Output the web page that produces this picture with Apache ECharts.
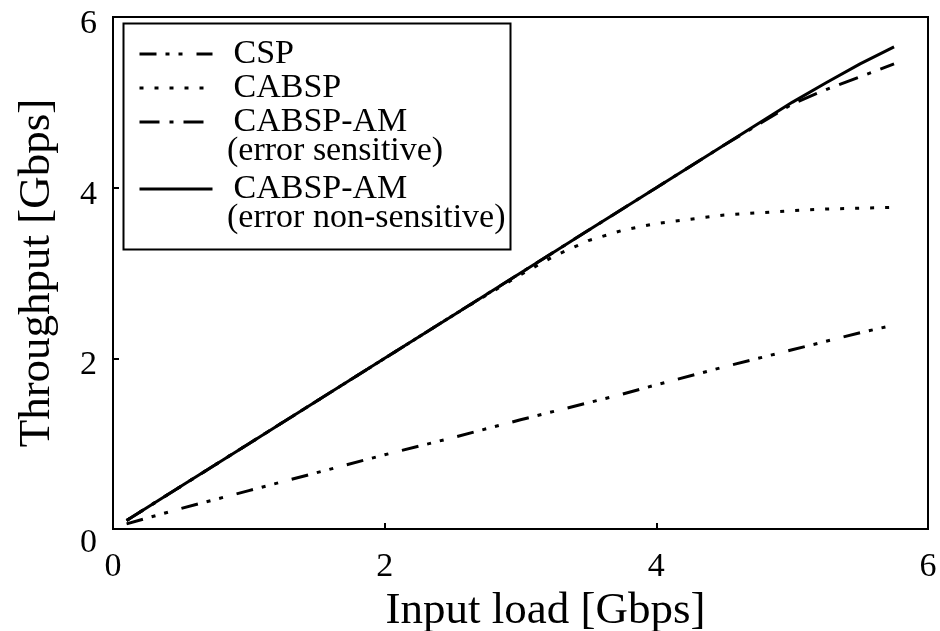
<!DOCTYPE html>
<html>
<head>
<meta charset="utf-8">
<script src="https://cdn.jsdelivr.net/npm/echarts@6/dist/echarts.min.js"></script>
<style>
  html, body { margin: 0; padding: 0; background: #fff; }
  #main { width: 940px; height: 631px; }
</style>
</head>
<body>
<div id="main"></div>
<script type="text/javascript">
// input load [Gbps]
var loadX = [0.1, 0.5, 1, 1.5, 2, 2.5, 3, 3.25, 3.5, 3.75, 4, 4.5, 5, 5.25, 5.5, 5.75];
// throughput [Gbps]
var cspY = [0.06, 0.24, 0.45, 0.66, 0.87, 1.07, 1.28, 1.38, 1.48, 1.58, 1.69, 1.9, 2.1, 2.2, 2.3, 2.39];
var cabspY = [0.1, 0.5, 1, 1.5, 2, 2.5, 2.98, 3.2, 3.38, 3.5, 3.58, 3.68, 3.73, 3.75, 3.76, 3.77];
var amSensY = [0.1, 0.5, 1, 1.5, 2, 2.5, 3, 3.25, 3.5, 3.75, 4, 4.5, 4.98, 5.15, 5.3, 5.45];
var amNonY = [0.1, 0.5, 1, 1.5, 2, 2.5, 3, 3.25, 3.5, 3.75, 4, 4.5, 5, 5.23, 5.45, 5.65];
var tickVals = [0, 2, 4, 6];

var seriesNames = ['CSP', 'CABSP', 'CABSP-AM (error sensitive)', 'CABSP-AM (error non-sensitive)'];
var FONT = '"Liberation Serif", "Times New Roman", serif';

function pairs(ys) {
	return loadX.map(function (x, i) { return [x, ys[i]]; });
}

function mkSeries(name, ys, dash, z) {
	return {
		name: name,
		type: 'line',
		data: pairs(ys),
		showSymbol: false,
		symbol: 'none',
		smooth: false,
		z: z,
		itemStyle: { color: '#000' },
		lineStyle: { color: '#000', width: 3, type: dash }
	};
}

var legendText = {
	fontFamily: FONT,
	fontSize: 34,
	lineHeight: 34,
	color: '#000',
	padding: [0, 0, 0, 16]
};

var chart = echarts.init(document.getElementById('main'));
chart.setOption({
	animation: false,
	backgroundColor: '#fff',
	grid: {
		left: 113, right: 12, top: 17, bottom: 102,
		outerBoundsMode: 'none',
		containLabel: false,
		show: true, borderColor: '#000', borderWidth: 2
	},
	xAxis: {
		type: 'value', min: 0, max: 6, interval: 2,
		name: 'Input load [Gbps]',
		nameLocation: 'middle',
		nameGap: 52,
		nameTextStyle: { fontFamily: FONT, fontSize: 45, color: '#000', padding: [0, 0, 0, 50] },
		axisLine: { show: true, lineStyle: { color: '#000', width: 2 } },
		axisTick: { show: true, inside: true, length: 6, lineStyle: { color: '#000', width: 2 } },
		axisLabel: {
			fontFamily: FONT, fontSize: 34, color: '#000', margin: 21,
			formatter: function (v) { return tickVals.indexOf(v) >= 0 ? String(v) : ''; }
		},
		splitLine: { show: false }
	},
	yAxis: {
		type: 'value', min: 0, max: 6, interval: 2,
		name: 'Throughput [Gbps]',
		nameLocation: 'middle',
		nameGap: 53,
		nameTextStyle: { fontFamily: FONT, fontSize: 45, color: '#000' },
		axisLine: { show: true, lineStyle: { color: '#000', width: 2 } },
		axisTick: { show: true, inside: true, length: 6, lineStyle: { color: '#000', width: 2 } },
		axisLabel: {
			fontFamily: FONT, fontSize: 34, color: '#000', margin: 16,
			verticalAlign: 'top', lineHeight: 14,
			formatter: function (v) { return v === 0 ? '{z|0}' : String(v); },
			rich: {
				z: { fontFamily: FONT, fontSize: 34, color: '#000', lineHeight: 14, padding: [14, 0, 0, 0] }
			}
		},
		splitLine: { show: false }
	},
	legend: [
		{
			orient: 'vertical', left: 133, top: 32,
			itemWidth: 73, itemHeight: 34, itemGap: 0,
			data: seriesNames.slice(0, 3),
			formatter: function (n) { return n.split(' (')[0]; },
			textStyle: legendText,
			itemStyle: { opacity: 0 },
			lineStyle: { width: 3 }
		},
		{
			orient: 'vertical', left: 133, top: 167,
			itemWidth: 73, itemHeight: 34, itemGap: 0,
			data: seriesNames.slice(3),
			formatter: function (n) { return n.split(' (')[0]; },
			textStyle: legendText,
			itemStyle: { opacity: 0 },
			lineStyle: { width: 3 }
		}
	],
	graphic: [
		{
			type: 'rect', left: 121, top: 21, z: 1, silent: true,
			shape: { width: 387, height: 226 },
			style: { fill: 'none', stroke: '#000', lineWidth: 2 }
		},
		{
			type: 'text', left: 227, top: 134, z: 5,
			style: { text: '(error sensitive)', font: '34px ' + FONT, fill: '#000' }
		},
		{
			type: 'text', left: 227, top: 201, z: 5,
			style: { text: '(error non-sensitive)', font: '34px ' + FONT, fill: '#000' }
		}
	],
	series: [
		mkSeries(seriesNames[0], cspY, [17, 9, 4, 9, 4, 14], 2),
		mkSeries(seriesNames[1], cabspY, [4, 11], 2),
		mkSeries(seriesNames[2], amSensY, [20, 10, 4, 10], 3),
		mkSeries(seriesNames[3], amNonY, 'solid', 4)
	]
});
</script>
</body>
</html>
